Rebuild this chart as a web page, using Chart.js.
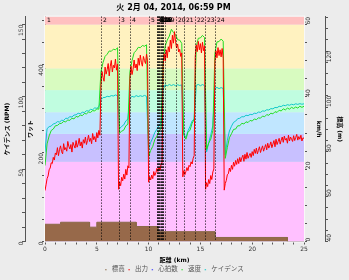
<!DOCTYPE html>
<html>
<head>
<meta charset="utf-8">
<script src="https://cdn.jsdelivr.net/npm/chart.js@4.4.1/dist/chart.umd.min.js"></script>
<style>
html, body { margin: 0; padding: 0; background: #ececec; }
#wrap { width: 349px; height: 280px; }
</style>
</head>
<body>
<div id="wrap"><canvas id="chart" width="349" height="280"></canvas></div>
<script>
// ride data (distance in km)
const titleText = '火 2月 04, 2014, 06:59 PM';

// power (W), one value every 0.1 km from 0 to 25
const power = [
  115, 128, 142, 148, 162, 166, 178, 176, 190, 184,
  200, 196, 212, 194, 208, 216, 203, 198, 221, 207,
  212, 204, 226, 215, 209, 219, 202, 224, 217, 211,
  228, 213, 220, 233, 216, 225, 211, 230, 222, 236,
  219, 228, 240, 226, 233, 221, 244, 230, 237, 225,
  246, 234, 251, 240,
  352, 384, 371, 362, 394, 378,
  388, 402, 374, 396, 409, 383, 398, 392, 412, 387,
  401,
  118, 134, 126, 145, 137, 152, 141, 163, 150,
  171, 166,
  368, 396, 377, 389, 410, 392, 401, 386,
  414, 398, 421, 405, 396, 418, 409, 402, 423, 408,
  134, 146, 139, 150, 142, 158, 149, 155, 165, 158,
  168, 161, 174, 179,
  396, 424, 408, 433, 415, 440,
  428, 455, 436, 466, 448, 474, 452, 437, 446, 428,
  434, 418, 426,
  146, 160, 151, 158, 167, 160, 172,
  169, 180, 175, 188, 194,
  418, 444, 429, 452, 433,
  447, 426, 450, 431, 442,
  118, 133, 124, 140, 131,
  149, 140, 157, 164,
  406, 431, 415, 438, 420, 433,
  417, 436, 414,
  116, 131, 138, 151, 153, 166, 158,
  172, 163, 179, 170, 183, 174, 187, 176, 190, 180,
  189, 195, 181, 197, 186, 201, 188, 194, 199, 190,
  203, 194, 208, 199, 211, 198, 206, 214, 201, 209,
  216, 204, 212, 219, 207, 222, 211, 217, 225, 212,
  220, 228, 214, 231, 219, 226, 233, 220, 229, 236,
  224, 238, 229, 233, 222, 240, 227, 236, 231, 226,
  239, 228, 235, 242, 229, 237, 231, 240, 227, 234,
  233
];

// speed (km/h) and cadence (rpm), one value every 0.2 km from 0 to 25
const speed = [
  21, 27, 29.2, 30.7, 31.1, 32.0, 32.1, 32.6, 32.7, 33.2,
  33.1, 33.6, 33.5, 34.1, 33.9, 34.6, 34.4, 35.0, 34.8, 35.4,
  35.3, 35.8, 35.7, 36.2, 36.1, 36.7, 36.6,
  47, 49.5, 51.2, 51.8, 52.7, 52.6, 53.2, 53.0, 53.6,
  30, 30.5, 30.8, 32.0, 32.4,
  47, 50, 52.2, 52.8, 53.7, 53.6, 54.2, 54.0, 54.4,
  23.5, 25.2, 26.3, 28.2, 29.1, 30.5, 31.3,
  50, 54, 55.7, 56.8, 58.7, 57.8, 57.2, 55.8, 55.7, 54.8,
  29.5, 28.3, 30.2, 30.8, 32.7, 33.8,
  54, 56.2, 56.3, 57.0, 56.4,
  25.5, 27.2, 28.3, 30.7,
  52, 55.2, 55.3, 56.0, 55.4,
  23, 26, 28.7, 29.8, 31.0, 31.1, 32.0, 32.0, 32.7, 32.5,
  33.1, 32.9, 33.5, 33.3, 33.9, 33.7, 34.2, 34.1, 34.7, 34.5,
  35.1, 34.9, 35.5, 35.3, 35.9, 35.7, 36.3, 36.1, 36.7, 36.4,
  36.9, 36.6, 37.1, 36.8, 37.2, 36.9, 37.4, 37.1, 37.4
];
const cadence = [
  62, 78, 79.4, 79.8, 81.3, 81.7, 82.9, 82.6, 83.8, 83.7,
  85.2, 85.1, 86.3, 86.1, 87.4, 87.6, 88.7, 88.3, 89.4, 89.2,
  90.4, 90.2, 91.4, 91.1, 92.4, 92.1, 93.2,
  98, 99.5, 99.6, 100.4, 100.1, 100.9, 100.6, 101.3, 100.8,
  78, 79.6, 80.6, 83.4, 84.6,
  99, 100.4, 99.8, 100.9, 100.2, 100.8, 100.3, 101, 100.4,
  64, 68.5, 71.6, 75.4, 77.6, 80.4, 81.7,
  105, 108.4, 107.6, 108.6, 107.8, 108.5, 107.7, 108.4, 107.9, 108.3,
  74, 72, 76.5, 79.6, 83.4, 84.7,
  108, 108.6, 107.7, 108.5, 107.8,
  62, 68.4, 73.7, 80.2,
  106, 106.5, 105.7, 106.4, 105.8,
  60, 70, 76.4, 79.7, 82.4, 83.2, 84.9, 85.2, 86.3, 86.2,
  87.3, 87.0, 87.9, 87.7, 88.7, 88.5, 89.5, 89.3, 90.3, 90.1,
  91.1, 90.9, 91.9, 91.7, 92.7, 92.5, 93.5, 93.3, 94.2, 93.9,
  94.6, 94.2, 94.9, 94.5, 95.2, 94.8, 95.3, 94.9, 95.2
];

// elevation (m) at change points
const elevKm = [0, 1.5, 1.5, 4.3, 4.3, 5.0, 5.0, 8.8, 8.8, 10.9, 10.9, 16.4, 16.4, 23.4, 23.4, 25];
const elev   = [47.7, 47.7, 48.6, 48.6, 46.4, 46.4, 48.6, 48.6, 46.7, 46.7, 44.4, 44.4, 41.8, 41.8, 36, 36];

// laps (interval markers)
const lapNames = ['1','2','3','4','5','6','7','8','9','10','11','12','13','14','15','16','17','18','19','20','21','22','23','24'];
const lapKm = [0, 5.36, 7.1, 8.16, 10.0, 10.8, 10.85, 10.9, 10.95, 11.0, 11.05, 11.1, 11.15, 11.2, 11.25, 11.3, 11.35, 11.4, 11.55, 12.6, 13.37, 14.44, 15.41, 16.38];

// power zones (W) and their colours
const zoneW = [0, 180, 243, 292, 342, 391, 490];
const zoneColors = ['#ffc0ff', '#c8c0ff', '#c0e6ff', '#c0fde0', '#d8fbc0', '#fff2c0', '#ffc0c0'];

const pts = (vals, step) => vals.map((v, i) => ({x: +(i * step).toFixed(2), y: v}));

const FONT = 'DejaVu Sans, "Noto Sans CJK JP", sans-serif';
const tickFont = {family: FONT, size: 6};
const titleFont = {family: FONT, size: 6, weight: 'bold'};

const zonePlugin = {
  id: 'zones',
  beforeDatasetsDraw(chart) {
    const {ctx, chartArea: a} = chart;
    const ys = chart.scales.yPower;
    ctx.save();
    for (let i = 0; i < zoneW.length; i++) {
      const top = i + 1 < zoneW.length ? ys.getPixelForValue(zoneW[i + 1]) : a.top;
      const bot = ys.getPixelForValue(zoneW[i]);
      ctx.fillStyle = zoneColors[i];
      ctx.fillRect(a.left, Math.max(top, a.top), a.right - a.left, Math.min(bot, a.bottom) - Math.max(top, a.top));
    }
    ctx.restore();
  }
};

const lapPlugin = {
  id: 'laps',
  afterDatasetsDraw(chart) {
    const {ctx, chartArea: a} = chart;
    const xs = chart.scales.x;
    ctx.save();
    ctx.strokeStyle = '#f8f8f8';
    ctx.lineWidth = 1;
    ctx.strokeRect(a.left - 0.5, a.top - 0.5, a.right - a.left + 1, a.bottom - a.top + 1);
    ctx.strokeStyle = '#000';
    ctx.setLineDash([1, 2]);
    ctx.font = '6px ' + FONT;
    ctx.fillStyle = '#000';
    ctx.textBaseline = 'top';
    lapKm.forEach((km, i) => {
      const x = Math.round(xs.getPixelForValue(km)) + 0.5;
      if (i > 0) {
        ctx.beginPath();
        ctx.moveTo(x, a.top);
        ctx.lineTo(x, a.bottom);
        ctx.stroke();
      }
      ctx.fillText(lapNames[i], x + 1.5, a.top + 1);
    });
    ctx.restore();
  }
};

const yAxis = (pos, min, max, step, every, top, weight, width, title, pad) => ({
  type: 'linear', position: pos, min: min, max: max, weight: weight,
  afterFit: s => { s.width = width; },
  ticks: {
    stepSize: step, includeBounds: false, minRotation: 90, maxRotation: 90, autoSkip: false,
    padding: 1, font: tickFont, color: '#333',
    callback: v => (Math.round(v) % every === 0 && v <= top ? v : '')
  },
  grid: {drawOnChartArea: false, tickLength: 3, color: '#555'},
  border: {color: '#555'},
  title: {display: true, text: title, font: titleFont, color: '#000', padding: {top: pad, bottom: 0}}
});

new Chart(document.getElementById('chart'), {
  type: 'line',
  data: {
    datasets: [
      {
        label: '標高', yAxisID: 'yElev',
        data: elev.map((v, i) => ({x: elevKm[i], y: v})),
        borderColor: '#8a6a48', backgroundColor: '#97694a', borderWidth: 1,
        fill: 'start', pointRadius: 0, tension: 0
      },
      {
        label: '出力', yAxisID: 'yPower', data: pts(power, 0.1),
        borderColor: '#ff0000', borderWidth: 1, pointRadius: 0, tension: 0
      },
      {
        label: '心拍数', yAxisID: 'ySpeed', data: [],
        borderColor: '#3030ff', borderWidth: 1, pointRadius: 0
      },
      {
        label: '速度', yAxisID: 'ySpeed', data: pts(speed, 0.2),
        borderColor: '#22dd22', borderWidth: 1, pointRadius: 0, tension: 0
      },
      {
        label: 'ケイデンス', yAxisID: 'yCad', data: pts(cadence, 0.2),
        borderColor: '#10c8c8', borderWidth: 1, pointRadius: 0, tension: 0
      }
    ]
  },
  options: {
    responsive: false,
    devicePixelRatio: 1,
    animation: false,
    layout: {padding: {left: 0, right: 2, top: 0, bottom: -3}},
    plugins: {
      title: {display: true, text: titleText, color: '#000',
        font: {family: FONT, size: 8, weight: 'bold'}, padding: {top: 3, bottom: 4}},
      legend: {
        position: 'bottom',
        labels: {usePointStyle: true, pointStyle: 'line', boxWidth: 5, boxHeight: 1,
          font: {family: FONT, size: 6.5}, color: '#555', padding: 2}
      },
      tooltip: {enabled: false}
    },
    scales: {
      x: {
        type: 'linear', position: 'bottom', min: 0, max: 25,
        afterFit: s => { s.height = 23; },
        ticks: {stepSize: 1, font: tickFont, color: '#333', padding: 1, maxRotation: 0, autoSkip: false,
          callback: v => (v % 5 === 0 ? v : '')},
        grid: {drawOnChartArea: false, tickLength: 3, color: '#555'},
        border: {color: '#555'},
        title: {display: true, text: '距離 (km)', font: titleFont, color: '#000', padding: 0}
      },
      yCad: yAxis('left', 0, 155.5, 10, 50, 150, 2, 25, 'ケイデンス (RPM)', 4),
      yPower: yAxis('left', 0, 508, 50, 200, 500, 1, 20, 'ワット', 2),
      ySpeed: yAxis('right', 0, 62.2, 5, 20, 60, 1, 21, 'km/h', 3),
      yElev: yAxis('right', 40, 140.4, 5, 20, 120, 2, 22, '標高 (m)', 4)
    }
  },
  plugins: [zonePlugin, lapPlugin]
});
</script>
</body>
</html>
